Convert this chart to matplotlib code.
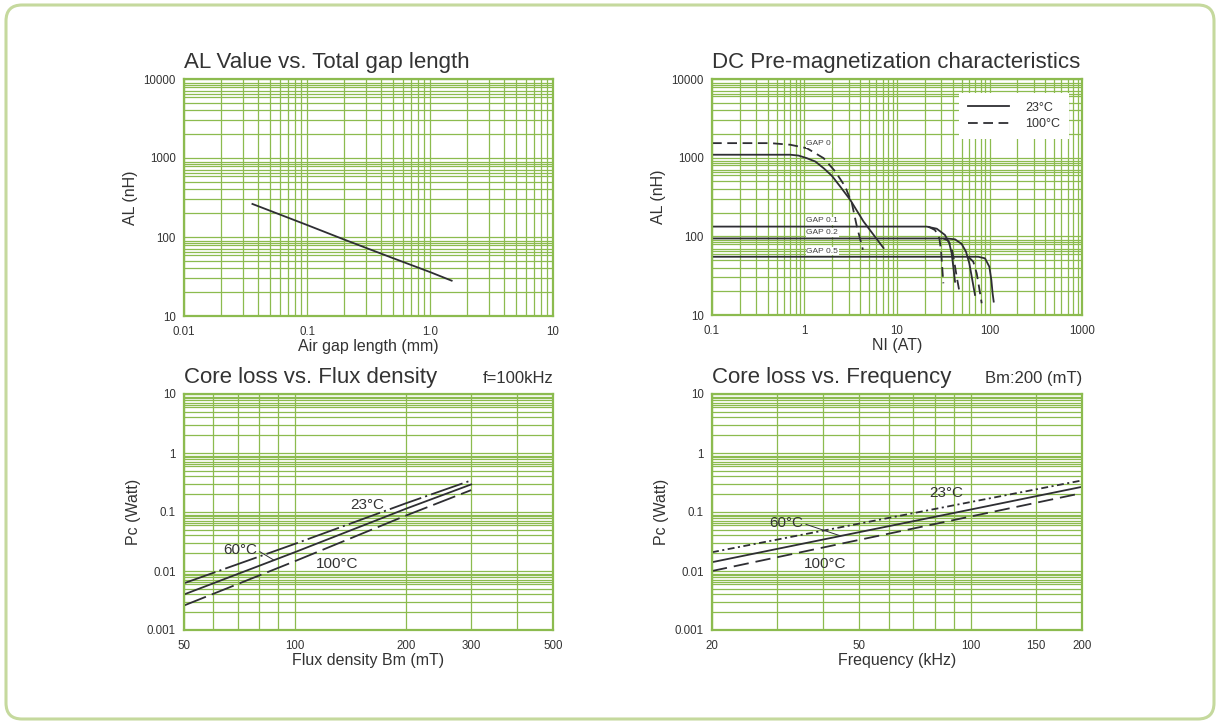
import numpy as np
import matplotlib
matplotlib.use("Agg")
import matplotlib.pyplot as plt
from matplotlib.patches import FancyBboxPatch
from matplotlib.ticker import FixedLocator, NullFormatter

GRID = '#8cbb4f'
INK = '#333333'
LINE = '#2e2e33'

plt.rcParams['font.family'] = ['Liberation Sans', 'DejaVu Sans']
plt.rcParams['lines.scale_dashes'] = False
plt.rcParams['grid.color'] = GRID
plt.rcParams['grid.linewidth'] = 0.9

# --- AL value vs gap length
gap_mm = [0.036, 0.1, 0.2, 0.5, 1.0, 1.5]
gap_al = [262, 142, 93, 54, 36, 28]

# --- DC pre-magnetization (NI in AT, AL in nH)
ni_g0_23 = [0.1, 0.7, 0.86, 1.06, 1.31, 1.61, 1.98, 2.43, 3.12, 4.35, 7.15]
al_g0_23 = [1090, 1090, 1064, 985, 893, 735, 587, 430, 291, 154, 71]
ni_g0_100 = [0.1, 0.43, 0.70, 1.06, 1.61, 2.15, 2.75, 3.25, 3.68, 4.28]
al_g0_100 = [1530, 1530, 1460, 1320, 985, 667, 430, 264, 134, 67.5]
ni_g01_23 = [0.1, 20.9, 26.9, 33.0, 36.8, 39.0, 40.6, 42.4]
al_g01_23 = [133, 133, 125, 104, 81.5, 60.8, 41.1, 26.5]
ni_g01_100 = [21.8, 25.8, 28.7, 29.9, 30.6, 31.7]
al_g01_100 = [133, 120, 94.4, 67, 45.4, 25.3]
ni_g02_23 = [0.1, 34.4, 42.4, 50, 55.7, 60.5, 64.7, 69.7]
al_g02_23 = [94, 94, 91.6, 80, 63.8, 45.4, 29.3, 18.0]
ni_g02_100 = [31.7, 35.9, 39.0, 41.3, 44.2, 48.0]
al_g02_100 = [94, 88, 70.4, 50, 30.7, 18]
ni_g05_23 = [0.1, 75.7, 89.4, 99.6, 104.7, 108, 111]
al_g05_23 = [55, 55, 52.5, 41.1, 27.9, 18.9, 14.8]
ni_g05_100 = [59, 66.8, 72.7, 77, 82.3]
al_g05_100 = [55, 47.6, 33.9, 22.9, 14.1]

# --- core loss vs flux density (f=100kHz)
bm = [50, 100, 200, 300]
pc_bm_23 = [0.0062, 0.0289, 0.141, 0.343]
pc_bm_60 = [0.0040, 0.0209, 0.114, 0.293]
pc_bm_100 = [0.0026, 0.0147, 0.0873, 0.235]

# --- core loss vs frequency (Bm=200mT)
freq = [20, 50, 100, 200]
pc_f_23 = [0.0208, 0.0635, 0.1475, 0.343]
pc_f_60 = [0.0141, 0.0455, 0.110, 0.267]
pc_f_100 = [0.0100, 0.0337, 0.0839, 0.209]

W, H = 1218, 722

fig = plt.figure(figsize=(W / 100, H / 100), dpi=100)
fig.patch.set_facecolor('white')

# rounded outer frame
frame = FancyBboxPatch((6 / 100, 3 / 100), (W - 10) / 100, (H - 8) / 100,
                       boxstyle='round,pad=0,rounding_size=0.16',
                       transform=fig.dpi_scale_trans, fill=False,
                       edgecolor='#c5d99d', linewidth=2.2)
fig.patches.append(frame)


def make_axes(left, top, width, height):
    return fig.add_axes([left / W, (H - top - height) / H, width / W, height / H])


def style(ax, xlim, ylim, xmaj, xlab, xmin, ymaj, ylab, ysubs):
    ax.set_xscale('log')
    ax.set_yscale('log')
    ax.set_xlim(*xlim)
    ax.set_ylim(*ylim)
    ax.xaxis.set_major_locator(FixedLocator(xmaj))
    ax.set_xticklabels(xlab)
    ax.xaxis.set_minor_locator(FixedLocator(xmin))
    ax.xaxis.set_minor_formatter(NullFormatter())
    ax.yaxis.set_major_locator(FixedLocator(ymaj))
    ax.set_yticklabels(ylab)
    ymin = [m * s for m in ymaj[:-1] for s in ysubs]
    ax.yaxis.set_minor_locator(FixedLocator(ymin))
    ax.yaxis.set_minor_formatter(NullFormatter())
    for sp in ax.spines.values():
        sp.set_color(GRID)
        sp.set_linewidth(1.6)
    ax.tick_params(which='both', length=0, labelsize=8.3, labelcolor=INK,
                   grid_color=GRID, grid_linewidth=0.9)
    ax.tick_params(axis='x', pad=7)
    ax.tick_params(axis='y', pad=6)
    ax.grid(True, which='both', color=GRID, linewidth=0.9)
    ax.set_axisbelow(True)


def decade_minors(lo, hi):
    n = int(round(np.log10(hi / lo)))
    return [lo * 10 ** k * s for k in range(n) for s in range(2, 10)]


ysubs = [2, 3, 4, 5, 6, 6.5, 7, 8, 8.5, 9]
TITLE = 16
LAB = 11.5

# ---- chart 1
ax1 = make_axes(184, 79, 369, 237)
style(ax1, (0.01, 10), (10, 10000), [0.01, 0.1, 1, 10], ['0.01', '0.1', '1.0', '10'],
      decade_minors(0.01, 10), [10, 100, 1000, 10000], ['10', '100', '1000', '10000'], ysubs)
ax1.plot(gap_mm, gap_al, color=LINE, lw=1.3)
ax1.set_title('AL Value vs. Total gap length', loc='left', fontsize=TITLE, color=INK, pad=8)
ax1.set_xlabel('Air gap length (mm)', fontsize=LAB, color=INK, labelpad=1)
ax1.set_ylabel('AL (nH)', fontsize=LAB, color=INK, labelpad=4)

# ---- chart 2
ax2 = make_axes(712, 79, 370, 236)
style(ax2, (0.1, 1000), (10, 10000), [0.1, 1, 10, 100, 1000], ['0.1', '1', '10', '100', '1000'],
      decade_minors(0.1, 1000), [10, 100, 1000, 10000], ['10', '100', '1000', '10000'], ysubs)
solid = dict(color=LINE, lw=1.3)
dash = dict(color=LINE, lw=1.3, dashes=(7, 4))
ax2.plot(ni_g0_23, al_g0_23, label='23°C', **solid)
ax2.plot(ni_g0_100, al_g0_100, label='100°C', **dash)
ax2.plot(ni_g01_23, al_g01_23, **solid)
ax2.plot(ni_g01_100, al_g01_100, **dash)
ax2.plot(ni_g02_23, al_g02_23, **solid)
ax2.plot(ni_g02_100, al_g02_100, **dash)
ax2.plot(ni_g05_23, al_g05_23, **solid)
ax2.plot(ni_g05_100, al_g05_100, **dash)
gbox = dict(facecolor='white', edgecolor='none', pad=0.6)
for txt, yv in [('GAP 0', 1500), ('GAP 0.1', 157), ('GAP 0.2', 111), ('GAP 0.5', 65)]:
    ax2.text(1.05, yv, txt, fontsize=6, color='#444444', va='center', ha='left', bbox=gbox)
leg = ax2.legend(loc='upper right', bbox_to_anchor=(1 - 13 / 370, 1 - 14 / 236), borderaxespad=0,
                 fontsize=9, frameon=True, fancybox=False, edgecolor='none', framealpha=1,
                 handlelength=3.3, labelspacing=0.35, borderpad=0.7, handletextpad=1.3)
for t in leg.get_texts():
    t.set_color(INK)
ax2.set_title('DC Pre-magnetization characteristics', loc='left', fontsize=TITLE, color=INK, pad=8)
ax2.set_xlabel('NI (AT)', fontsize=LAB, color=INK, labelpad=1)
ax2.set_ylabel('AL (nH)', fontsize=LAB, color=INK, labelpad=4)

# ---- chart 3
ax3 = make_axes(184, 394, 369, 236)
style(ax3, (50, 500), (0.001, 10), [50, 100, 200, 300, 500], ['50', '100', '200', '300', '500'],
      [60, 70, 80, 90, 400], [0.001, 0.01, 0.1, 1, 10], ['0.001', '0.01', '0.1', '1', '10'], ysubs)
ax3.plot(bm, pc_bm_23, color=LINE, lw=1.3, dashes=(24, 3, 1.5, 3))
ax3.plot(bm, pc_bm_60, color=LINE, lw=1.3)
ax3.plot(bm, pc_bm_100, color=LINE, lw=1.3, dashes=(17, 4.5))
ax3.text(157, 0.13, '23°C', fontsize=11, color=INK, ha='center', va='center')
ax3.annotate('60°C', xy=(87.6, 0.0153), xytext=(70.9, 0.0227), fontsize=11, color=INK,
             ha='center', va='center', arrowprops=dict(arrowstyle='-', color=LINE, lw=0.7,
                                                       shrinkA=0, shrinkB=0, relpos=(1, 0.5)))
ax3.text(129.6, 0.0131, '100°C', fontsize=11, color=INK, ha='center', va='center')
ax3.set_title('Core loss vs. Flux density', loc='left', fontsize=TITLE, color=INK, pad=8)
ax3.set_title('f=100kHz', loc='right', fontsize=12, color=INK, pad=8)
ax3.set_xlabel('Flux density Bm (mT)', fontsize=LAB, color=INK, labelpad=1)
ax3.set_ylabel('Pc (Watt)', fontsize=LAB, color=INK, labelpad=4)

# ---- chart 4
ax4 = make_axes(712, 394, 370, 236)
style(ax4, (20, 200), (0.001, 10), [20, 50, 100, 150, 200], ['20', '50', '100', '150', '200'],
      [30, 40, 60, 70, 80, 90], [0.001, 0.01, 0.1, 1, 10], ['0.001', '0.01', '0.1', '1', '10'], ysubs)
ax4.plot(freq, pc_f_23, color=LINE, lw=1.3, dashes=(5, 2.5, 1.5, 2.5))
ax4.plot(freq, pc_f_60, color=LINE, lw=1.3)
ax4.plot(freq, pc_f_100, color=LINE, lw=1.3, dashes=(11, 5))
ax4.text(85.8, 0.2075, '23°C', fontsize=11, color=INK, ha='center', va='center')
ax4.annotate('60°C', xy=(44.3, 0.0397), xytext=(31.7, 0.0643), fontsize=11, color=INK,
             ha='center', va='center', arrowprops=dict(arrowstyle='-', color=LINE, lw=0.7,
                                                       shrinkA=0, shrinkB=0, relpos=(1, 0.5)))
ax4.text(40.4, 0.0131, '100°C', fontsize=11, color=INK, ha='center', va='center')
ax4.set_title('Core loss vs. Frequency', loc='left', fontsize=TITLE, color=INK, pad=8)
ax4.set_title('Bm:200 (mT)', loc='right', fontsize=12, color=INK, pad=8)
ax4.set_xlabel('Frequency (kHz)', fontsize=LAB, color=INK, labelpad=1)
ax4.set_ylabel('Pc (Watt)', fontsize=LAB, color=INK, labelpad=4)

fig.savefig('out.png', dpi=100)
